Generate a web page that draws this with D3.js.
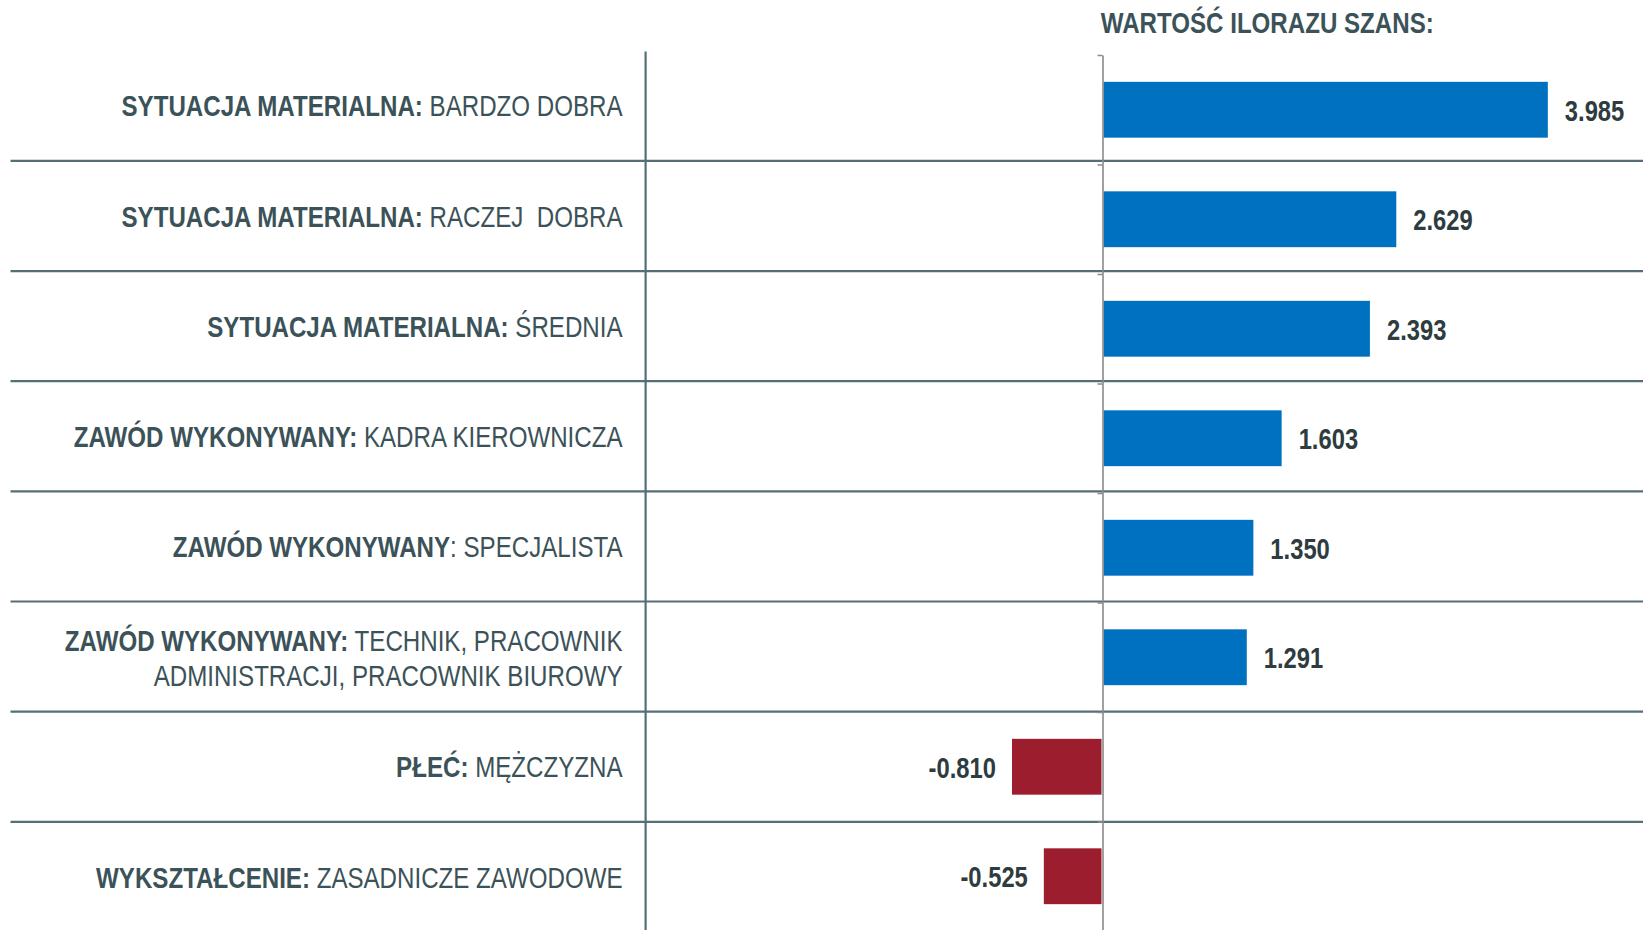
<!DOCTYPE html>
<html><head><meta charset="utf-8">
<script src="https://cdn.jsdelivr.net/npm/d3@7"></script>
<style>
html,body{margin:0;padding:0;background:#fff;}
svg{display:block;}
text{font-family:"Liberation Sans",Arial,sans-serif;white-space:pre;}
</style></head>
<body>
<svg id="chart" width="1646" height="930"></svg>
<script>
const categoryBold = [
  "SYTUACJA MATERIALNA:",
  "SYTUACJA MATERIALNA:",
  "SYTUACJA MATERIALNA:",
  "ZAWÓD WYKONYWANY:",
  "ZAWÓD WYKONYWANY",
  "ZAWÓD WYKONYWANY:",
  "PŁEĆ:",
  "WYKSZTAŁCENIE:"
];
const categoryRest = [
  [" BARDZO DOBRA"],
  [" RACZEJ  DOBRA"],
  [" ŚREDNIA"],
  [" KADRA KIEROWNICZA"],
  [": SPECJALISTA"],
  [" TECHNIK, PRACOWNIK", "ADMINISTRACJI, PRACOWNIK BIUROWY"],
  [" MĘŻCZYZNA"],
  [" ZASADNICZE ZAWODOWE"]
];
const values = [3.985, 2.629, 2.393, 1.603, 1.350, 1.291, -0.810, -0.525];
const valueLabels = ["3.985", "2.629", "2.393", "1.603", "1.350", "1.291", "-0.810", "-0.525"];
const title = "WARTOŚĆ ILORAZU SZANS:";

const ids = d3.range(values.length);
const svg = d3.select("#chart");
const narrow = 0.832; // horizontal condensing, emulates a narrow typeface

const x = d3.scaleLinear().domain([-1, 4]).range([990.75, 1549.5]);
const yBar = d3.scaleBand().domain(ids).range([55, 931]).paddingInner(0.49).paddingOuter(0.245);
const yRow = d3.scaleBand().domain(ids).range([50.7, 932]).padding(0);

const slate = "#566e75";
const textCol = "#3b5258";

// separators
svg.append("g").selectAll("line").data(ids.slice(0, -1)).join("line")
  .attr("x1", 10.5).attr("x2", 1643)
  .attr("y1", d => yRow(d) + yRow.step()).attr("y2", d => yRow(d) + yRow.step())
  .attr("stroke", slate).attr("stroke-width", 2.2);

// vertical divider
svg.append("line").attr("x1", 645.6).attr("x2", 645.6).attr("y1", 51.5).attr("y2", 930)
  .attr("stroke", slate).attr("stroke-width", 2.2);

// bars
svg.append("g").selectAll("rect").data(ids).join("rect")
  .attr("x", d => x(Math.min(0, values[d])) + (values[d] > 0 ? 1 : 0))
  .attr("width", d => Math.abs(x(values[d]) - x(0)) - 1)
  .attr("y", d => yBar(d))
  .attr("height", yBar.bandwidth())
  .attr("fill", d => values[d] >= 0 ? "#0070c0" : "#9b1d2e");

// axis at zero
const idxScale = d3.scaleLinear().domain([0, values.length]).range([55, 931]);
const axisG = svg.append("g").attr("transform", `translate(${x(0)},0)`)
  .call(d3.axisLeft(idxScale).tickValues(d3.range(values.length + 1)).tickFormat("").tickSizeInner(5).tickSizeOuter(0));
axisG.select(".domain").attr("stroke", "#8a8a8a").attr("stroke-width", 1.6);
axisG.selectAll(".tick line").attr("stroke", "#8a8a8a").attr("stroke-width", 1.5);

// value labels
svg.append("g").selectAll("text").data(ids).join("text")
  .attr("transform", d => `translate(${values[d] >= 0 ? x(values[d]) + 17 : x(values[d]) - 16},${yBar(d) + yBar.bandwidth() / 2 + 11}) scale(0.82,1)`)
  .attr("text-anchor", d => values[d] >= 0 ? "start" : "end")
  .attr("font-size", 29).attr("font-weight", "bold").attr("fill", "#2e3c40")
  .text(d => valueLabels[d]);

// category labels
const lab = svg.append("g").selectAll("text").data(ids).join("text")
  .attr("text-anchor", "end").attr("font-size", 29).attr("fill", textCol);
lab.each(function(d) {
  const t = d3.select(this);
  const rest = categoryRest[d];
  const cy = yRow(d) + yRow.bandwidth() / 2;
  const base = rest.length === 1 ? cy + 10.7 : cy - 5.8;
  t.attr("transform", `translate(622.5,${base}) scale(${narrow},1)`).attr("x", 0).attr("y", 0);
  t.append("tspan").attr("font-weight", "bold").text(categoryBold[d]);
  t.append("tspan").text(rest[0]);
  if (rest.length > 1) t.append("tspan").attr("x", 0).attr("dy", 35).text(rest[1]);
});

// title
svg.append("text").attr("transform", `translate(1100.7,33.3) scale(${narrow},1)`)
  .attr("font-size", 29).attr("font-weight", "bold").attr("fill", textCol)
  .text(title);
</script>
</body></html>
